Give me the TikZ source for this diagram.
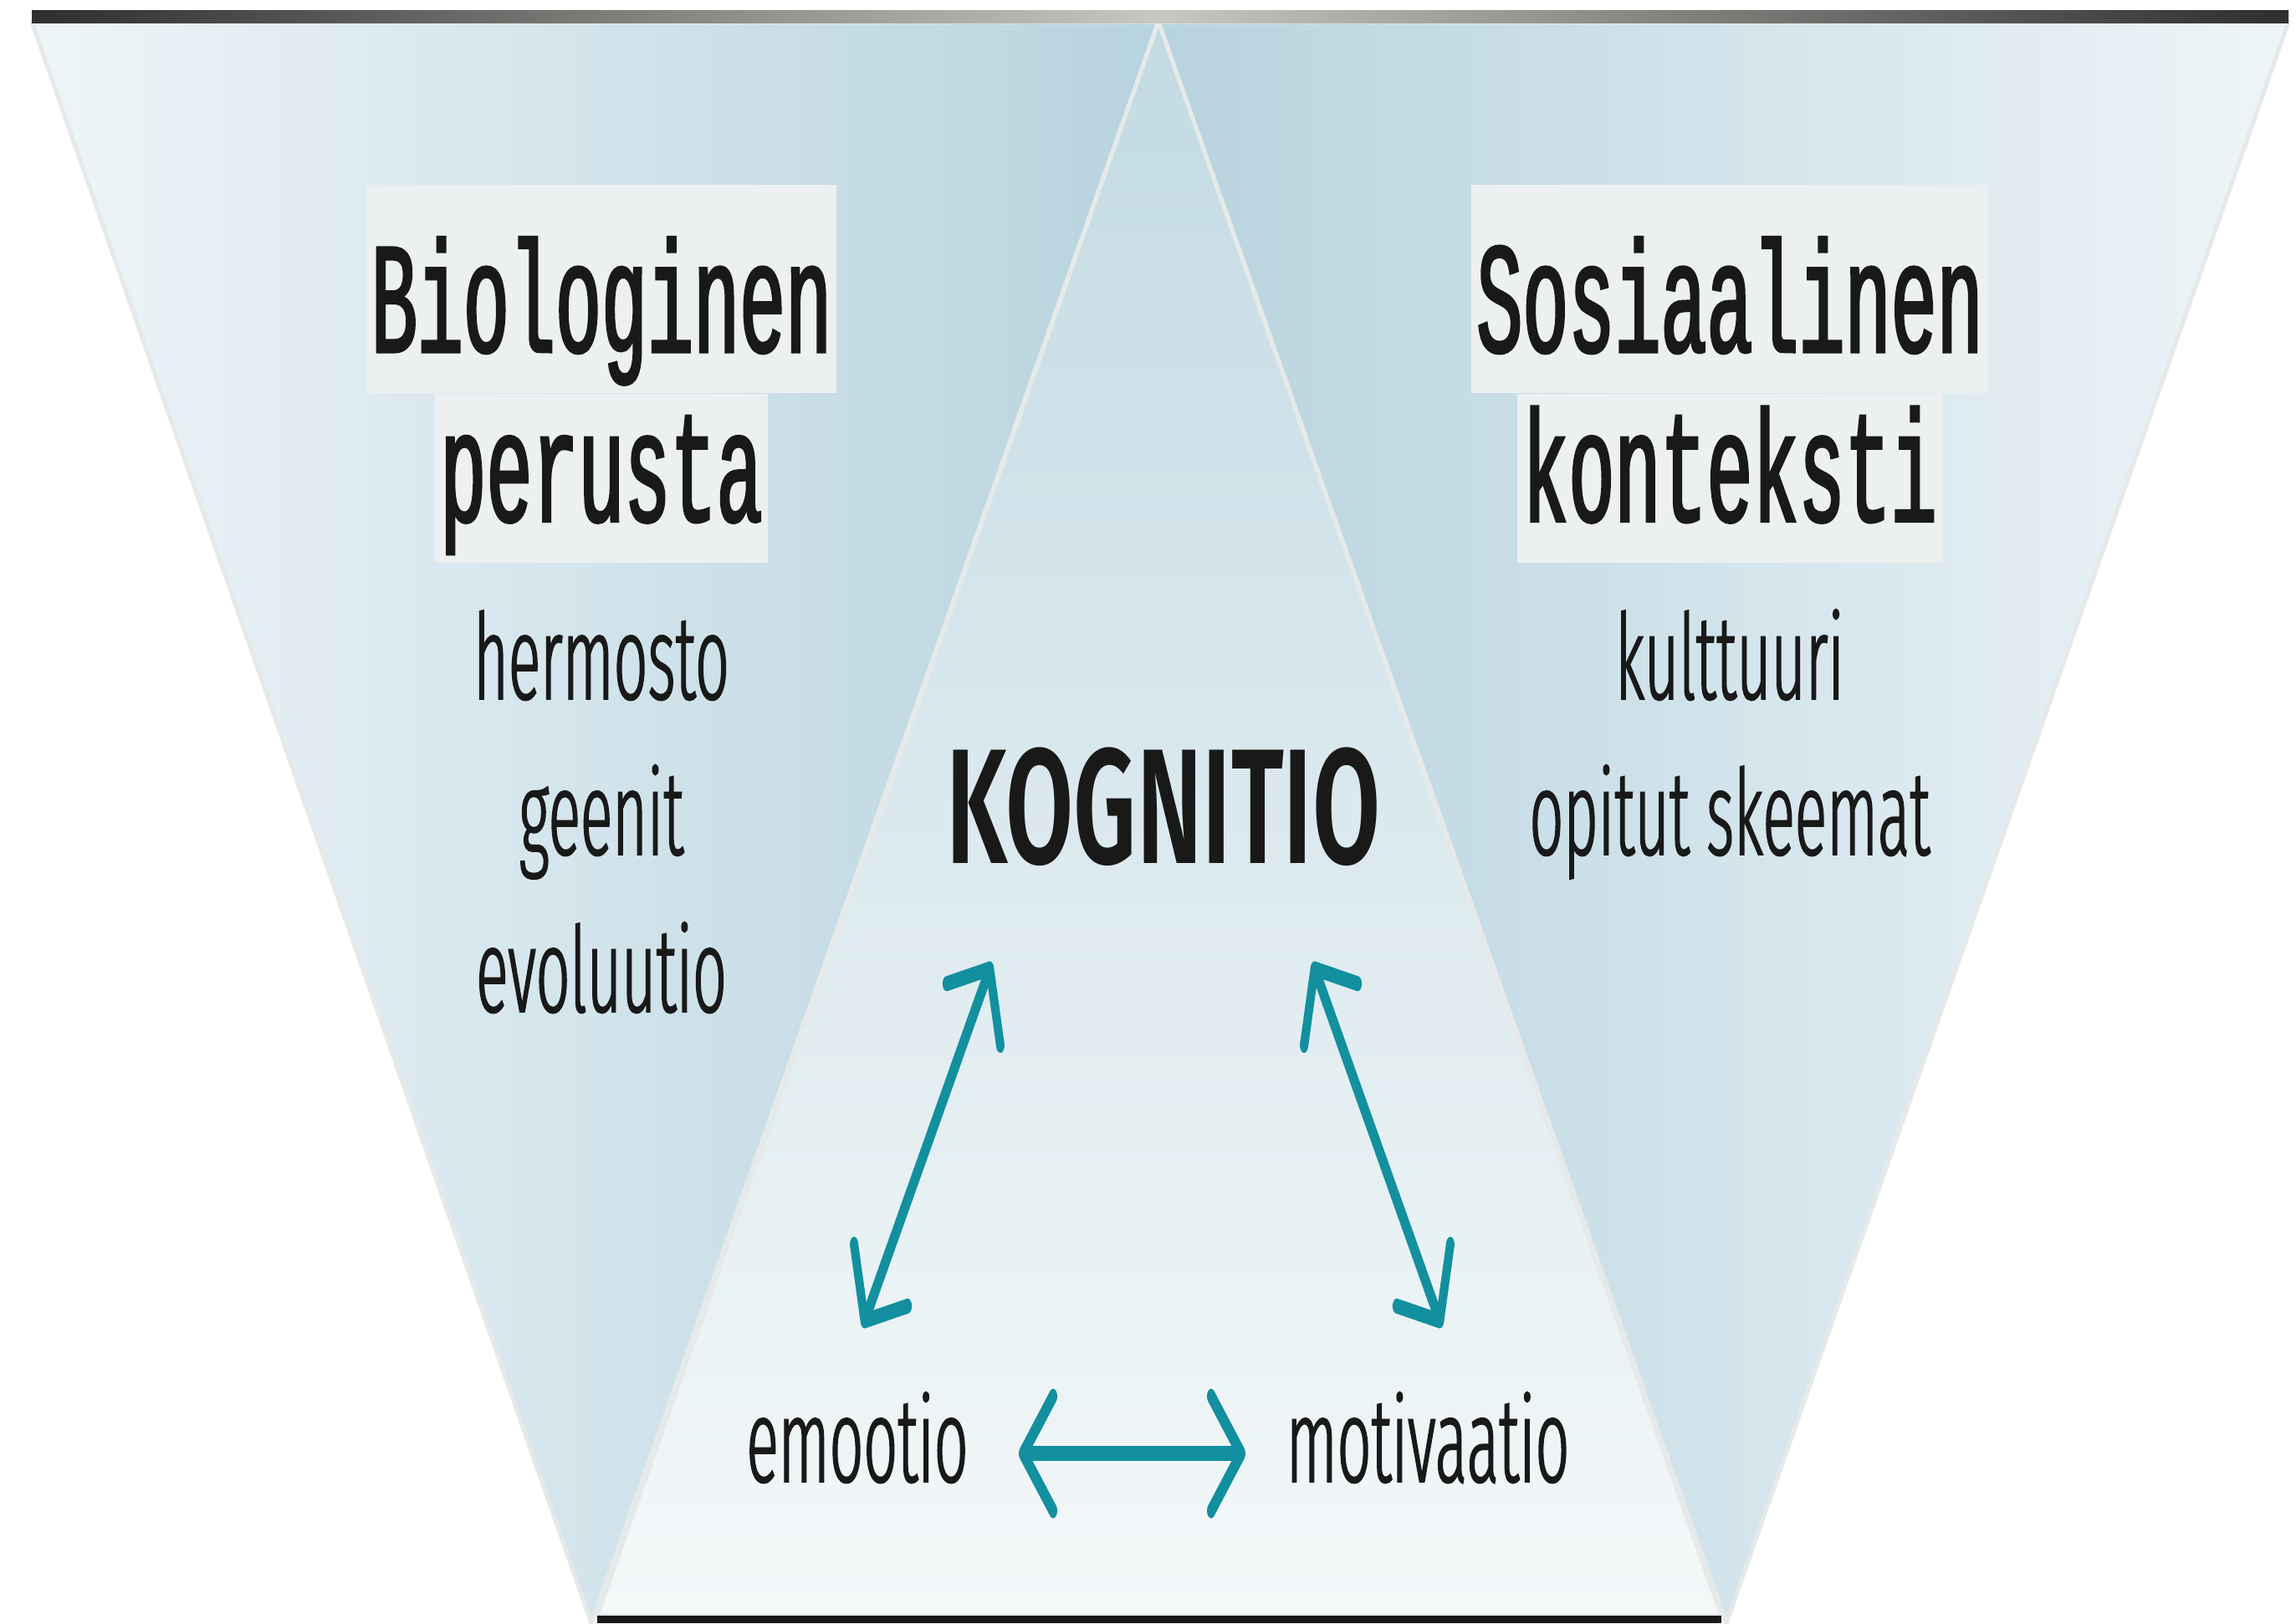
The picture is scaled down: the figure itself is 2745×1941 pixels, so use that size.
\documentclass[tikz,border=0pt]{standalone}
\usepackage{fontspec}
\usetikzlibrary{arrows.meta,positioning}
\newfontfamily\headfont[FakeStretch=0.483, FakeBold=1.6]{Liberation Mono}
\newfontfamily\itemfont[FakeStretch=0.5, FakeBold=1.2]{Fira Sans Light}
\newfontfamily\kogfont[FakeStretch=0.6]{Fira Sans SemiBold}
\definecolor{boxgrey}{HTML}{ECF0F0}
\definecolor{paleblue}{HTML}{EEF5F8}
\definecolor{deepblue}{HTML}{B7D3DE}
\definecolor{topblue}{HTML}{C2DAE3}
\definecolor{lowwhite}{HTML}{F4F8F9}
\definecolor{rimgrey}{HTML}{E6E9E9}
\definecolor{arrowteal}{HTML}{12909F}
\definecolor{bardark}{HTML}{2E2E2E}
\definecolor{barlight}{HTML}{C8C8C2}
\tikzset{
  headbox/.style={fill=boxgrey, inner xsep=0.06cm, inner ysep=0pt,
    text height=2cm, text depth=0.49cm, text=black!90,
    font=\headfont\fontsize{54pt}{54pt}\selectfont},
  headboxlow/.style={headbox, text height=1.52cm},
  itemtext/.style={inner sep=0pt, text=black!90, font=\itemfont\fontsize{40.6pt}{40.6pt}\selectfont},
  kogtext/.style={inner sep=0pt, text=black!90, font=\kogfont\fontsize{55.7pt}{55.7pt}\selectfont},
  tealbarb/.tip={Straight Barb[length=0.36cm, width=0.76cm, round]},
  biarrow/.style={draw=arrowteal, line width=0.1cm, {tealbarb}-{tealbarb}},
  rim/.style={draw=rimgrey, line width=0.05cm, line join=round}
}
\begin{document}
\begin{tikzpicture}[x=0.01cm, y=-0.01cm]
  \useasboundingbox (0,0) rectangle (2745,1941);
  \fill[white] (0,0) rectangle (2745,1941);

  % side wedges
  \shadedraw[rim, left color=paleblue, right color=deepblue] (38,26) -- (1385,26) -- (707,1941) -- cycle;
  \shadedraw[rim, left color=deepblue, right color=paleblue] (1385,26) -- (2736,26) -- (2064,1941) -- cycle;
  % middle wedge
  \shadedraw[rim, top color=topblue, bottom color=lowwhite] (1385,26) -- (2058,1932) -- (714,1932) -- cycle;

  % bars
  \shade[left color=bardark, right color=bardark, middle color=barlight] (38,12) rectangle (2736,27);
  \fill[black!90] (714,1932) rectangle (2058,1941);

  % left column
  \node[headbox, anchor=base] (bio) at (719,421) {Biologinen};
  \node[headboxlow, below=0pt of bio] (peru) {perusta};
  \node[itemtext, anchor=base] (herm) at (719,836) {hermosto};
  \node[itemtext, anchor=base] (geen) at (719,1022) {geenit};
  \node[itemtext, anchor=base] (evol) at (719,1210) {evoluutio};

  % right column
  \node[headbox, anchor=base] (sos) at (2068,421) {Sosiaalinen};
  \node[headboxlow, below=0pt of sos] (kont) {konteksti};
  \node[itemtext, anchor=base] (kult) at (2068,836) {kulttuuri};
  \node[itemtext, anchor=base] (skee) at (2068,1022) {opitut skeemat};

  % middle
  \node[kogtext, anchor=base] (kog) at (1391,1032) {KOGNITIO};
  \node[itemtext, anchor=base] (emo) at (1025,1772) {emootio};
  \node[itemtext, anchor=base] (mot) at (1707,1772) {motivaatio};

  %% arrows, drawn in the stretched canvas
  \begin{scope}[transform canvas={yscale=1.8}]
    \coordinate (kog-l) at (1186,639.4);
    \coordinate (emo-t) at (1031,881.7);
    \coordinate (kog-r) at (1569,639.4);
    \coordinate (mot-t) at (1724,881.7);
    \coordinate (emo-r) at (1218,965.6);
    \coordinate (mot-l) at (1489,965.6);
    \draw[biarrow] (kog-l) -- (emo-t);
    \draw[biarrow] (kog-r) -- (mot-t);
    \draw[biarrow] (emo-r) -- (mot-l);
  \end{scope}
\end{tikzpicture}
\end{document}
